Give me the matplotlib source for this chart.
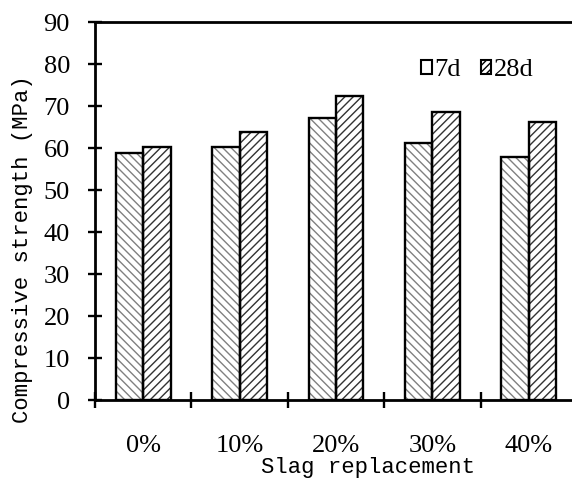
import matplotlib
matplotlib.use("Agg")
import matplotlib.pyplot as plt
from matplotlib.patches import Patch
import numpy as np

# 矿渣掺量与抗压强度
slag = ["0%", "10%", "20%", "30%", "40%"]
strength_7d = [58.8, 60.4, 67.1, 61.3, 57.9]
strength_28d = [60.3, 64.0, 72.5, 68.6, 66.2]

plt.rcParams['hatch.linewidth'] = 1.0
serif = ['Liberation Serif', 'DejaVu Serif']
mono = ['Liberation Mono', 'DejaVu Sans Mono']

fig = plt.figure(figsize=(5.72, 4.8), dpi=100)
ax = fig.add_axes([95/572, 79.7/480, 482/572, 378/480])

x = np.arange(len(slag))
w = 0.285
# 先画阴影再描黑边
ax.bar(x - w/2, strength_7d, w, facecolor='white', edgecolor='#808080', hatch='\\\\\\\\', linewidth=0)
ax.bar(x + w/2, strength_28d, w, facecolor='white', edgecolor='#333333', hatch='////', linewidth=0)
ax.bar(x - w/2, strength_7d, w, fill=False, edgecolor='black', linewidth=1.7)
ax.bar(x + w/2, strength_28d, w, fill=False, edgecolor='black', linewidth=1.7)

ax.set_xlim(-0.5, 4.5)
ax.set_ylim(0, 90)
ax.set_yticks(range(0, 91, 10))
ax.set_yticklabels([str(v) for v in range(0, 91, 10)], family=serif, fontsize=19)
ax.set_xticks(np.arange(-0.5, 4.6, 1))
ax.set_xticklabels([])
ax.set_xticks(x, minor=True)
ax.set_xticklabels(slag, minor=True, family=serif, fontsize=19)
ax.tick_params(axis='y', direction='inout', length=10, width=1.7, pad=13)
ax.tick_params(axis='x', which='major', direction='inout', length=11, width=1.7)
ax.tick_params(axis='x', which='minor', length=0, pad=25)

for s in ['left', 'bottom', 'top', 'right']:
    ax.spines[s].set_linewidth(2)

ax.set_ylabel("Compressive strength (MPa)", family=mono, fontsize=16)
ax.yaxis.set_label_coords(-0.128, 0.40)
ax.set_xlabel("Slag replacement", family=mono, fontsize=16)
ax.xaxis.set_label_coords(0.567, -0.15)

handles = [Patch(facecolor='white', edgecolor='black', linewidth=1.5),
           Patch(facecolor='white', edgecolor='black', linewidth=1.5, hatch='/////')]
ax.legend(handles, ['7d', '28d'], ncol=2, frameon=False, loc='upper left',
          bbox_to_anchor=(0.655, 0.93), prop={'family': serif, 'size': 19},
          handlelength=0.4, handleheight=0.4, handletextpad=0.1,
          columnspacing=0.75, borderaxespad=0)

fig.savefig('out.png', dpi=100)
